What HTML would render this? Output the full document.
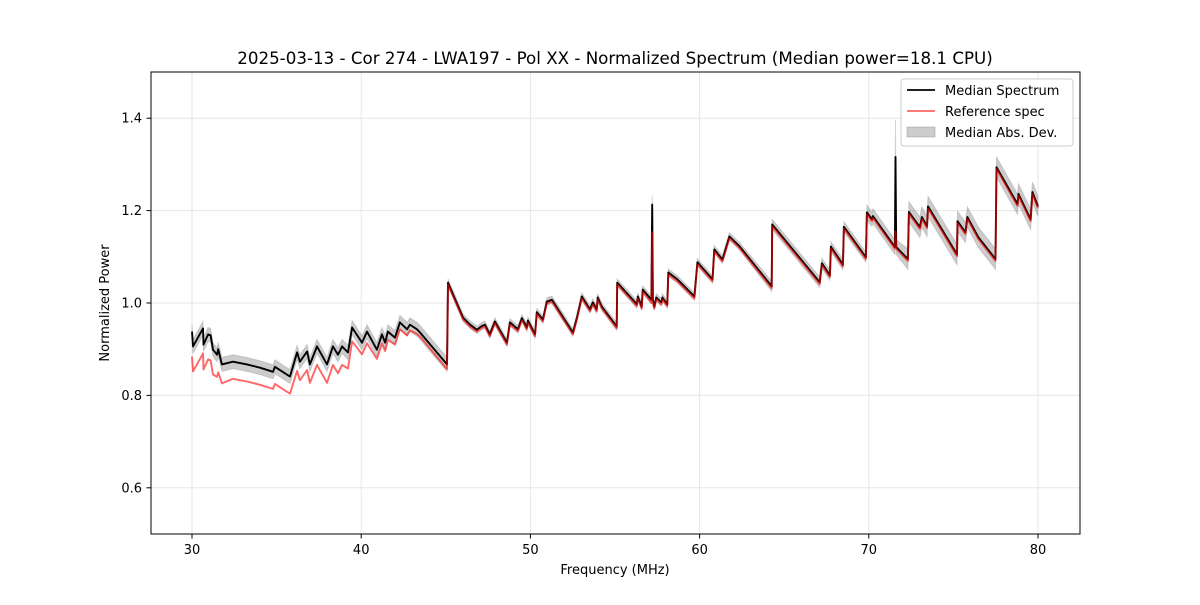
<!DOCTYPE html>
<html><head><meta charset="utf-8">
<style>
body{margin:0;background:#fff;}
svg text{font-family:"DejaVu Sans","Liberation Sans",sans-serif;fill:#000;}
</style></head>
<body>
<svg id="chart" width="1200" height="600" viewBox="0 0 1200 600">
<rect width="1200" height="600" fill="#fff"/>
<text x="615" y="64" font-size="16.7" text-anchor="middle">2025-03-13 - Cor 274 - LWA197 - Pol XX - Normalized Spectrum (Median power=18.1 CPU)</text>
<g id="grid"></g>
<g id="plot"></g>
<rect x="151" y="72" width="929" height="462" fill="none" stroke="#000" stroke-width="1"/>
<g id="axes"></g>
<text x="615" y="574" font-size="13" text-anchor="middle">Frequency (MHz)</text>
<text x="0" y="0" font-size="13" text-anchor="middle" transform="translate(109,303) rotate(-90)">Normalized Power</text>
<g>
<rect x="901" y="79" width="172" height="67" rx="3" fill="#fff" fill-opacity="0.8" stroke="#ccc"/>
<line x1="907" y1="90" x2="935" y2="90" stroke="#000" stroke-width="1.8"/>
<text x="945" y="95" font-size="13">Median Spectrum</text>
<line x1="907" y1="111" x2="935" y2="111" stroke="red" stroke-opacity="0.6" stroke-width="1.8"/>
<text x="945" y="116" font-size="13">Reference spec</text>
<rect x="907" y="127" width="28" height="10" fill="#000" fill-opacity="0.2" stroke="#999" stroke-opacity="0.5"/>
<text x="945" y="137" font-size="13">Median Abs. Dev.</text>
</g>
</svg>
<script>
const freq=[30.00,30.06,30.65,30.68,30.95,31.10,31.24,31.48,31.55,31.77,32.42,33.25,34.02,34.79,34.90,35.61,35.79,36.21,36.38,36.80,36.97,37.39,37.98,38.33,38.63,38.87,39.22,39.46,40.05,40.34,40.93,41.23,41.41,41.58,42.00,42.29,42.71,42.88,43.30,43.48,45.07,45.13,46.02,46.43,46.84,47.13,47.31,47.60,47.90,48.61,48.79,49.26,49.50,49.79,49.85,50.27,50.38,50.74,50.97,51.27,52.51,52.75,53.04,53.52,53.69,53.92,53.98,54.22,55.10,55.13,56.05,56.29,56.35,56.58,56.64,57.15,57.20,57.24,57.32,57.44,57.74,57.80,58.09,58.15,58.69,59.69,59.87,60.76,60.87,61.35,61.76,62.35,64.26,64.29,67.10,67.23,67.70,67.76,68.47,68.53,69.83,69.89,70.19,70.24,71.54,71.58,71.62,72.31,72.37,73.02,73.14,73.44,73.50,75.21,75.24,75.71,75.83,76.48,77.49,77.55,78.79,78.85,79.56,79.67,80.00];
const median=[0.938,0.906,0.945,0.910,0.932,0.930,0.899,0.888,0.900,0.867,0.873,0.867,0.860,0.851,0.862,0.845,0.841,0.893,0.873,0.895,0.867,0.906,0.867,0.906,0.888,0.906,0.893,0.947,0.914,0.938,0.899,0.932,0.914,0.938,0.925,0.958,0.943,0.953,0.943,0.936,0.867,1.044,0.968,0.953,0.942,0.950,0.953,0.932,0.960,0.914,0.958,0.943,0.967,0.947,0.962,0.932,0.980,0.964,1.003,1.007,0.936,0.968,1.014,0.986,1.001,0.986,1.012,0.992,0.949,1.044,1.007,0.997,1.014,0.992,1.029,1.007,1.213,1.007,0.992,1.012,1.001,1.012,0.997,1.066,1.051,1.014,1.088,1.051,1.116,1.094,1.144,1.123,1.036,1.170,1.045,1.086,1.060,1.122,1.083,1.165,1.099,1.196,1.181,1.188,1.121,1.316,1.121,1.095,1.197,1.164,1.186,1.166,1.209,1.105,1.177,1.153,1.186,1.142,1.095,1.294,1.214,1.236,1.181,1.240,1.209];
const reference=[0.884,0.852,0.891,0.856,0.878,0.876,0.845,0.840,0.850,0.826,0.836,0.830,0.823,0.814,0.825,0.808,0.804,0.853,0.833,0.855,0.827,0.866,0.827,0.866,0.848,0.866,0.858,0.917,0.889,0.913,0.879,0.912,0.896,0.920,0.910,0.943,0.930,0.941,0.933,0.927,0.857,1.040,0.964,0.949,0.938,0.946,0.949,0.928,0.956,0.910,0.954,0.939,0.963,0.943,0.958,0.928,0.976,0.960,0.999,1.003,0.932,0.964,1.010,0.982,0.997,0.982,1.008,0.988,0.945,1.040,1.003,0.993,1.010,0.988,1.025,1.000,1.153,1.000,0.988,1.008,0.997,1.008,0.993,1.062,1.047,1.010,1.084,1.047,1.112,1.090,1.140,1.119,1.032,1.166,1.041,1.082,1.056,1.118,1.079,1.161,1.095,1.192,1.177,1.184,1.117,1.155,1.117,1.091,1.193,1.160,1.182,1.162,1.205,1.101,1.173,1.149,1.182,1.138,1.091,1.290,1.210,1.232,1.177,1.236,1.205];
const mad=[0.015,0.015,0.015,0.015,0.015,0.015,0.015,0.015,0.015,0.015,0.015,0.015,0.015,0.015,0.015,0.015,0.015,0.015,0.015,0.015,0.015,0.015,0.015,0.015,0.015,0.015,0.015,0.015,0.015,0.015,0.015,0.015,0.015,0.015,0.015,0.015,0.015,0.015,0.015,0.015,0.015,0.008,0.008,0.008,0.008,0.008,0.008,0.008,0.008,0.008,0.008,0.008,0.008,0.008,0.008,0.008,0.008,0.008,0.008,0.008,0.008,0.008,0.008,0.008,0.008,0.008,0.008,0.008,0.008,0.008,0.008,0.008,0.008,0.008,0.008,0.008,0.02,0.008,0.008,0.008,0.008,0.008,0.008,0.008,0.008,0.008,0.008,0.008,0.008,0.008,0.008,0.008,0.011,0.011,0.011,0.011,0.011,0.011,0.011,0.011,0.011,0.016,0.016,0.016,0.016,0.08,0.016,0.022,0.022,0.022,0.022,0.022,0.022,0.022,0.022,0.022,0.022,0.022,0.022,0.022,0.022,0.022,0.022,0.022,0.022];
const xTicks=[30,40,50,60,70,80];
const yTicks=[0.6,0.8,1.0,1.2,1.4];
const yTickLabels=["0.6","0.8","1.0","1.2","1.4"];

const NS="http://www.w3.org/2000/svg";
function X(f){return 192+(f-30)*(1038-192)/50;}
function Y(v){return 534-(v-0.5)*462;}
function mk(tag,attrs,parent){const e=document.createElementNS(NS,tag);for(const k in attrs)e.setAttribute(k,attrs[k]);parent.appendChild(e);return e;}
const grid=document.getElementById('grid'),plot=document.getElementById('plot'),axes=document.getElementById('axes');

xTicks.forEach(t=>{
  const g=mk('line',{x1:X(t),x2:X(t),y1:72,y2:534,stroke:'#e6e6e6','stroke-width':1},grid);
  
  
  const tk=mk('line',{x1:X(t),x2:X(t),y1:534,y2:538.5,stroke:'#000'},axes);
  
  
  const tx=mk('text',{x:X(t),y:554,'font-size':13,'text-anchor':'middle'},axes);
  tx.textContent=String(t);
  
  
});
yTicks.forEach((t,i)=>{
  const g=mk('line',{x1:151,x2:1080,y1:Y(t),y2:Y(t),stroke:'#e6e6e6','stroke-width':1},grid);
  
  
  const tk=mk('line',{x1:146.5,x2:151,y1:Y(t),y2:Y(t),stroke:'#000'},axes);
  
  
  const tx=mk('text',{x:142,y:Y(t)+4.5,'font-size':13,'text-anchor':'end'},axes);
  tx.textContent=yTickLabels[i];
  
  
});

let up='',dn='';
freq.forEach((f,i)=>{up+=(i?'L':'M')+X(f).toFixed(1)+','+Y(median[i]+mad[i]).toFixed(1);});
for(let i=freq.length-1;i>=0;i--){dn+='L'+X(freq[i]).toFixed(1)+','+Y(median[i]-mad[i]).toFixed(1);}
const band=mk('path',{d:up+dn+'Z',fill:'#000','fill-opacity':0.2,stroke:'#999','stroke-opacity':0.4,'stroke-width':1},plot);



const mp=freq.map((f,i)=>(i?'L':'M')+X(f).toFixed(1)+','+Y(median[i]).toFixed(1)).join('');
const ml=mk('path',{d:mp,fill:'none',stroke:'#000','stroke-width':1.9,'stroke-linejoin':'round'},plot);



const rp=freq.map((f,i)=>(i?'L':'M')+X(f).toFixed(1)+','+Y(reference[i]).toFixed(1)).join('');
const rl=mk('path',{d:rp,fill:'none',stroke:'red','stroke-opacity':0.6,'stroke-width':1.9,'stroke-linejoin':'round'},plot);


</script>
</body></html>
